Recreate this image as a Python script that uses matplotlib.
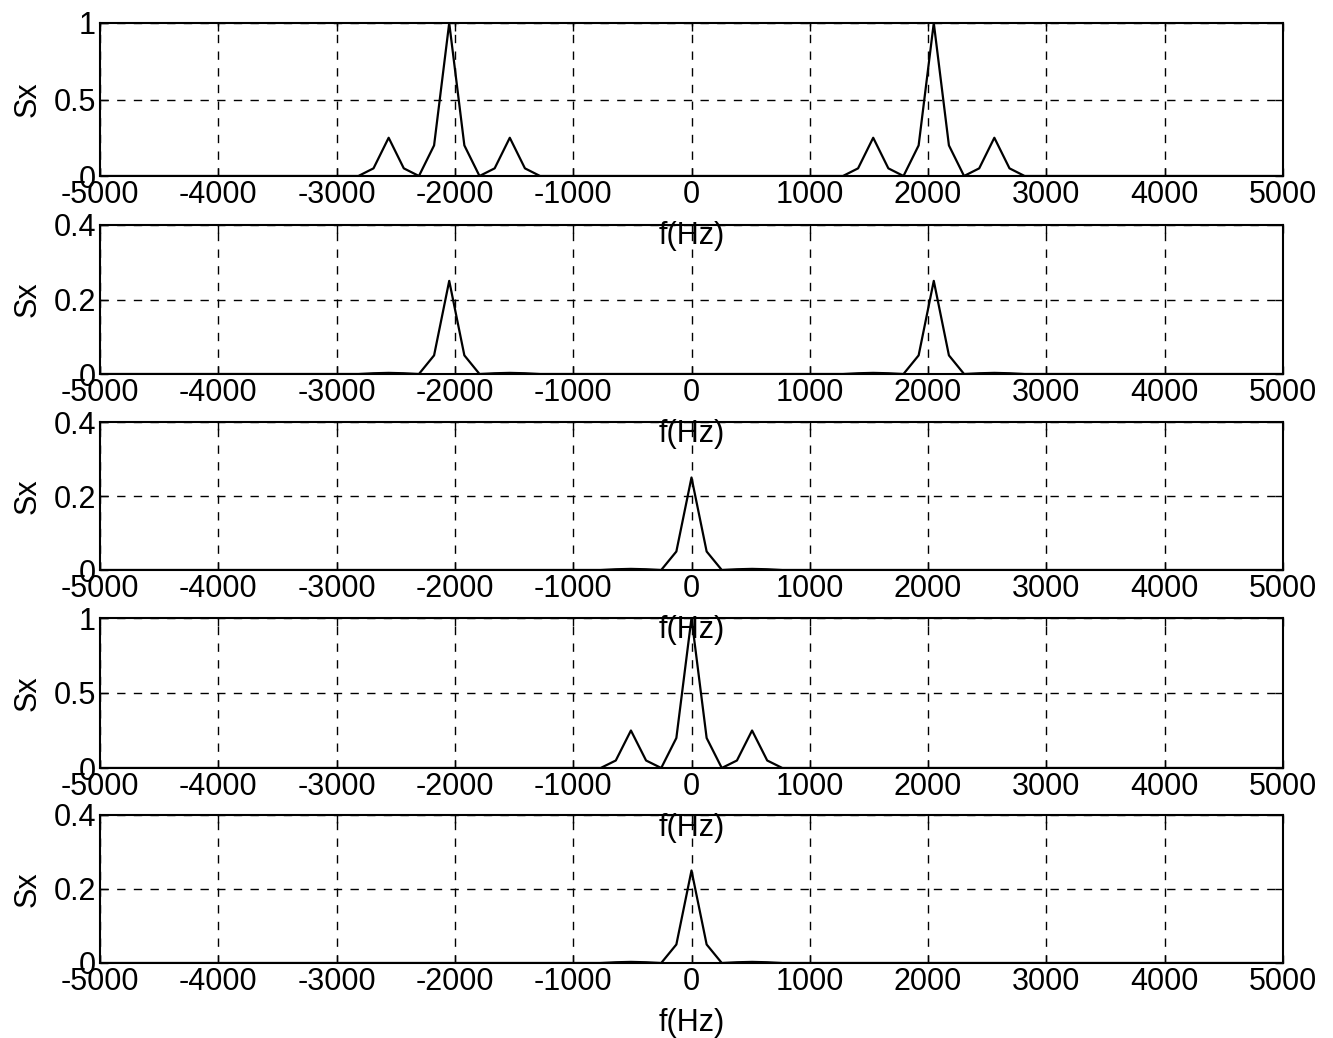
import matplotlib
matplotlib.use('Agg')
import matplotlib.pyplot as plt

plt.rcParams['font.family'] = ['Liberation Sans', 'DejaVu Sans']
plt.rcParams['axes.unicode_minus'] = False

# spectrum samples (Hz, Sx)
f1 = [-5000, -2816, -2688, -2560, -2432, -2304, -2176, -2048, -1920, -1792, -1664, -1536, -1408, -1280,
      1280, 1408, 1536, 1664, 1792, 1920, 2048, 2176, 2304, 2432, 2560, 2688, 2816, 5000]
s1 = [0, 0, 0.05, 0.25, 0.05, 0, 0.2, 1.0, 0.2, 0, 0.05, 0.25, 0.05, 0,
      0, 0.05, 0.25, 0.05, 0, 0.2, 1.0, 0.2, 0, 0.05, 0.25, 0.05, 0, 0]

f2 = [-5000, -2816, -2688, -2560, -2432, -2304, -2176, -2048, -1920, -1792, -1664, -1536, -1408, -1280,
      1280, 1408, 1536, 1664, 1792, 1920, 2048, 2176, 2304, 2432, 2560, 2688, 2816, 5000]
s2 = [0, 0, 0.002, 0.003, 0.002, 0, 0.05, 0.25, 0.05, 0, 0.002, 0.003, 0.002, 0,
      0, 0.002, 0.003, 0.002, 0, 0.05, 0.25, 0.05, 0, 0.002, 0.003, 0.002, 0, 0]

f3 = [-5000, -768, -640, -512, -384, -256, -128, 0, 128, 256, 384, 512, 640, 768, 5000]
s3 = [0, 0, 0.002, 0.003, 0.002, 0, 0.05, 0.25, 0.05, 0, 0.002, 0.003, 0.002, 0, 0]

f4 = [-5000, -768, -640, -512, -384, -256, -128, 0, 128, 256, 384, 512, 640, 768, 5000]
s4 = [0, 0, 0.05, 0.25, 0.05, 0, 0.2, 1.0, 0.2, 0, 0.05, 0.25, 0.05, 0, 0]

f5 = [-5000, -768, -640, -512, -384, -256, -128, 0, 128, 256, 384, 512, 640, 768, 5000]
s5 = [0, 0, 0.002, 0.003, 0.002, 0, 0.05, 0.25, 0.05, 0, 0.002, 0.003, 0.002, 0, 0]

ymax = [1, 0.4, 0.4, 1, 0.4]
yticks = [[0, 0.5, 1], [0, 0.2, 0.4], [0, 0.2, 0.4], [0, 0.5, 1], [0, 0.2, 0.4]]
xticks = list(range(-5000, 5001, 1000))

W, H = 1333, 1038
fig = plt.figure(figsize=(W / 100, H / 100), dpi=100)

# panel pixel extents (top, bottom)
tops = [23, 225, 422, 618, 815]
bots = [176, 374, 570, 768, 963]
left, right = 100, 1283

series = [(f1, s1), (f2, s2), (f3, s3), (f4, s4), (f5, s5)]
for i, (f, s) in enumerate(series):
    ax = fig.add_axes([left / W, 1 - bots[i] / H, (right - left) / W, (bots[i] - tops[i]) / H])
    ax.patch.set_visible(False)  # let the f(Hz) label of the panel above show through
    ax.plot(f, s, color='black', linewidth=1.6)
    ax.set_xlim(-5000, 5000)
    ax.set_ylim(0, ymax[i])
    ax.set_xticks(xticks)
    ax.set_yticks(yticks[i])
    ax.set_yticklabels([f'{v:g}' for v in yticks[i]])
    ax.grid(True, color='black', linestyle=(0, (6, 6)), linewidth=1.0)
    ax.tick_params(direction='in', length=6, width=1, labelsize=22, pad=3, colors='black',
                   top=True, right=True)
    for sp in ax.spines.values():
        sp.set_linewidth(1.5)
    ax.set_xlabel('f(Hz)', fontsize=22, labelpad=8)
    ax.set_ylabel('Sx', fontsize=22, labelpad=8)

fig.savefig('out.png', dpi=100, facecolor='white')
